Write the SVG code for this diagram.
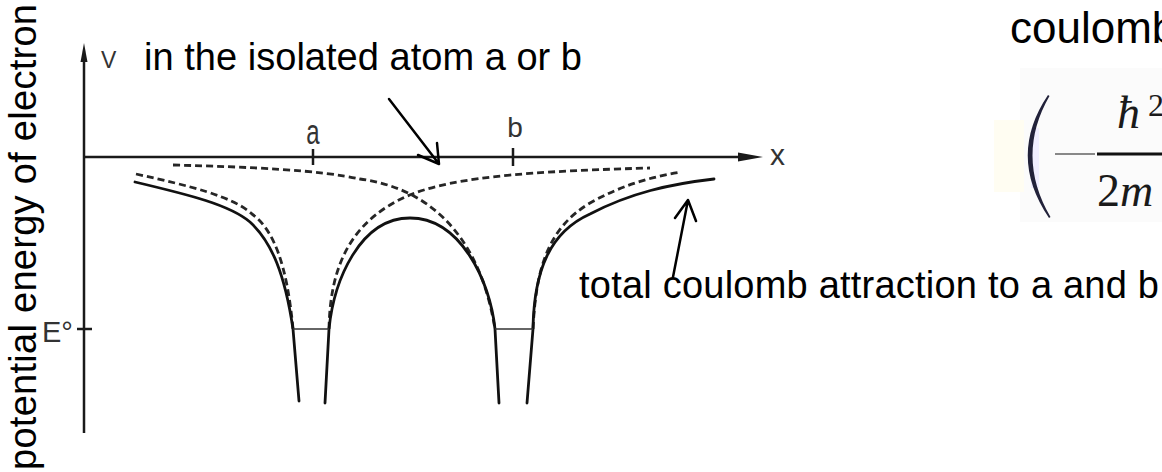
<svg xmlns="http://www.w3.org/2000/svg" width="1162" height="472" viewBox="0 0 1162 472">
<style>
.lbl{font-family:"Liberation Sans",Arial,sans-serif;fill:#000}
.fig{font-family:"Liberation Sans",Arial,sans-serif;fill:#333}
.axis{stroke:#1a1a1a;stroke-width:2.5;fill:none}
.solid{stroke:#111;stroke-width:2.8;fill:none;stroke-linejoin:round;stroke-linecap:round}
.dash{stroke:#262626;stroke-width:2.8;fill:none;stroke-dasharray:7 4}
.floor{stroke:#333;stroke-width:1.6;fill:none}
.ann{stroke:#000;stroke-width:2.5;fill:none;stroke-linecap:round;stroke-linejoin:round}
.math{font-family:"Liberation Serif","Times New Roman",serif;fill:#1a1a1a}
</style>
<rect width="1162" height="472" fill="#fff"/>

<g id="axes">
  <line class="axis" x1="84" y1="58" x2="84" y2="433"/>
  <polygon points="84,43 87.5,62 80.5,62" fill="#1a1a1a"/>
  <line class="axis" x1="84" y1="157" x2="740" y2="157"/>
  <polygon points="763,157 738,152.5 738,161.5" fill="#1a1a1a"/>
  <line class="axis" x1="313" y1="149" x2="313" y2="165"/>
  <line class="axis" x1="513" y1="148" x2="513" y2="166"/>
  <line class="axis" stroke-width="2" x1="77" y1="329" x2="92" y2="329"/>
  <text class="fig" x="101" y="68" font-size="23">V</text>
  <text class="fig" x="770" y="165" font-size="30">x</text>
  <text class="fig" transform="translate(313,144) scale(0.8,1.15)" font-size="30" text-anchor="middle">a</text>
  <text class="fig" x="515" y="137" font-size="28" text-anchor="middle">b</text>
  <text class="fig" x="42" y="342" font-size="29" fill="#444">E°</text>
</g>

<g id="isolated-atom-curves">
  <path class="dash" d="M136,174 C190,186 232,196 252,214 C274,230 287,265 293,329"/>
  <path class="dash" d="M329,329 C330,275 345,232 390,205 C430,180 500,172 650,168"/>
  <path class="dash" d="M173,165 C250,167 320,170 360,179 C420,187 478,225 495,329"/>
  <path class="dash" d="M533,329 C536,268 548,228 590,203 C620,186 650,177 681,172"/>
</g>

<g id="total-curve">
  <path class="solid" d="M135,182 C190,195 230,205 250,222 C272,242 285,275 293,329 L299,401"/>
  <path class="solid" d="M325,403 L329,329 C334,280 360,218 410,218 C460,218 490,280 495,329 L499,403"/>
  <path class="solid" d="M527,403 L533,329 C534,270 550,232 590,214 C630,193 670,184 714,179"/>
  <line class="floor" x1="293" y1="329" x2="329" y2="329"/>
  <line class="floor" x1="495" y1="329" x2="533" y2="329"/>
</g>

<g id="connectors">
  <path class="ann" d="M389,99 L439,164 M418,155 L439,164 L437,143"/>
  <path class="ann" d="M673,277 L688,200 M675,218 L688,200 L696,221"/>
</g>

<g id="label-isolated">
  <text class="lbl" x="144" y="70" font-size="38" textLength="438">in the isolated atom a or b</text>
</g>
<g id="label-total">
  <text class="lbl" x="579" y="298" font-size="38" textLength="580">total coulomb attraction to a and b</text>
</g>
<g id="label-axis">
  <text class="lbl" transform="translate(36,470) rotate(-90)" font-size="38" textLength="466">potential energy of electron</text>
</g>
<g id="label-coulomb">
  <text class="lbl" x="1010" y="43" font-size="44">coulomb</text>
</g>

<g id="formula">
  <rect x="1020" y="68" width="142" height="154" fill="#fbfbfb"/>
  <rect x="994" y="120" width="30" height="72" fill="#fffdf2"/>
  <rect x="1031" y="128" width="8" height="60" fill="#f0eeff"/>
  <path d="M1048,95 Q1007,156 1049,218 L1050.5,217 Q1015,156 1049.5,96 Z" fill="#22223a"/>
  <line x1="1055" y1="154" x2="1095" y2="154" stroke="#888" stroke-width="2"/>
  <line x1="1097" y1="154" x2="1162" y2="154" stroke="#111" stroke-width="3"/>
  <text class="math" x="1117" y="128" font-size="46" font-style="italic">ħ</text>
  <text class="math" x="1148" y="116" font-size="32">2</text>
  <text class="math" x="1097" y="206" font-size="46">2<tspan font-style="italic">m</tspan></text>
</g>
</svg>
